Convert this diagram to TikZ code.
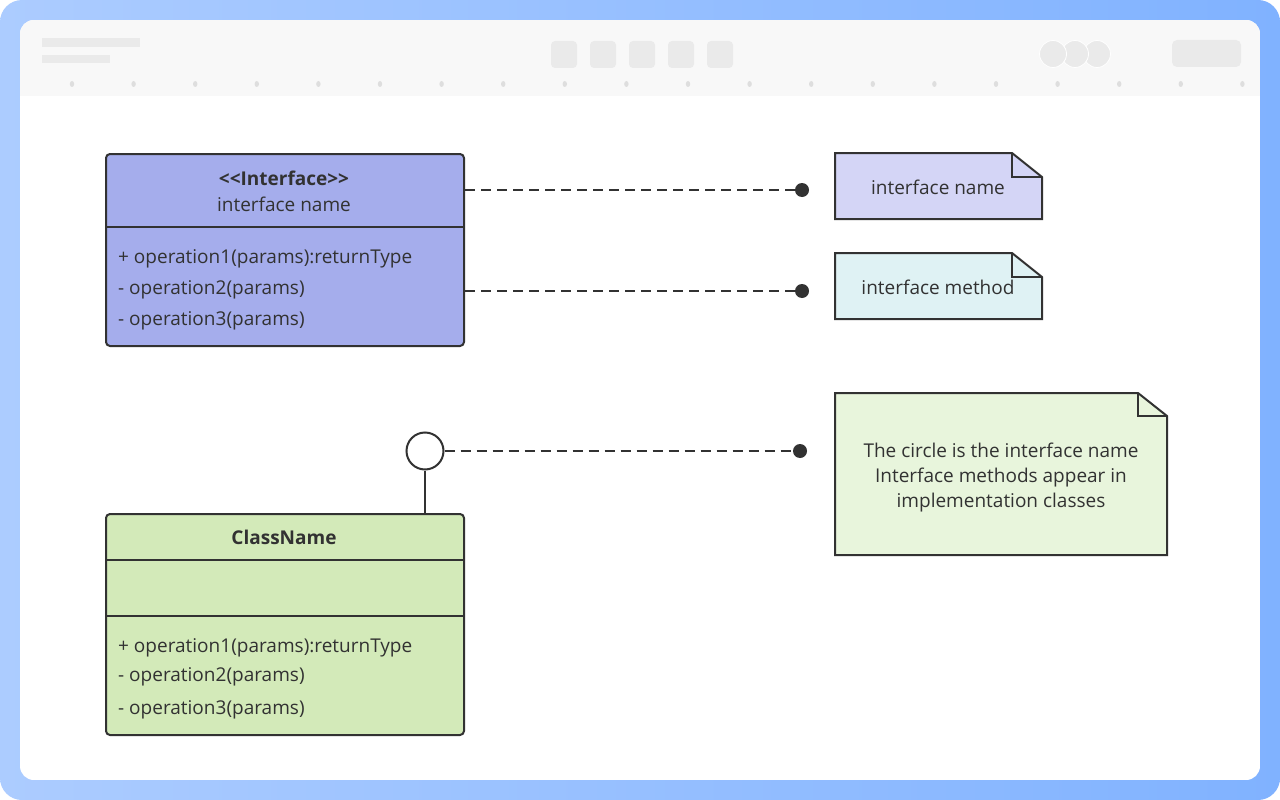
\documentclass[tikz,border=0pt]{standalone}
\usepackage{fontspec}
\setmainfont{Open Sans}
\definecolor{frameL}{RGB}{172,204,255}
\definecolor{frameR}{RGB}{128,178,255}
\definecolor{toolbar}{RGB}{248,248,248}
\definecolor{tbgray}{RGB}{234,234,234}
\definecolor{tbdot}{RGB}{222,222,222}
\definecolor{ink}{RGB}{50,50,50}
\definecolor{ifill}{RGB}{165,173,236}
\definecolor{cfill}{RGB}{211,234,185}
\definecolor{nAfill}{RGB}{212,213,246}
\definecolor{nBfill}{RGB}{223,242,244}
\definecolor{nCfill}{RGB}{232,245,220}
\tikzset{
  umlbox/.style={draw=ink, line width=2pt, rounded corners=4pt, anchor=north west, inner sep=0pt},
  divider/.style={draw=ink, line width=2pt},
  optext/.style={anchor=mid west, text=ink, inner sep=0pt, font=\fontsize{19}{22}\selectfont},
  titletext/.style={anchor=mid, text=ink, inner sep=0pt, font=\fontsize{19}{22}\selectfont},
  notetext/.style={anchor=mid, text=ink, inner sep=0pt, align=center, font=\fontsize{19}{25}\selectfont},
  noteshape/.style={draw=ink, line width=2pt, line join=miter},
  dashline/.style={draw=ink, line width=2pt, dash pattern=on 10pt off 6pt},
  enddot/.style={circle, fill=ink, inner sep=0pt, minimum size=14pt},
}
\begin{document}
\begin{tikzpicture}[x=1pt,y=-1pt]
\useasboundingbox (0,0) rectangle (1280,800);
% frame
\fill[white] (0,0) rectangle (1280,800);
\shade[left color=frameL, right color=frameR, rounded corners=22pt] (0,0) rectangle (1280,800);
\begin{scope}
\clip[rounded corners=14pt] (20,20) rectangle (1260,780);
\fill[white] (20,20) rectangle (1260,780);
\fill[toolbar] (20,20) rectangle (1260,96);
\end{scope}
% toolbar decoration
\fill[tbgray] (42,38) rectangle (140,47);
\fill[tbgray] (42,55) rectangle (110,63);
\foreach \x in {551,590,629,668,707}
  \fill[tbgray, rounded corners=4pt] (\x,41) rectangle ++(26,27);
\foreach \x in {1097,1075,1053}
  \filldraw[fill=tbgray, draw=white, line width=0.8pt] (\x,54) circle (13.5);
\fill[tbgray, rounded corners=5pt] (1172,40) rectangle (1241,67);
\foreach \i in {0,...,19}
  \fill[tbdot] ({72+61.6*\i},84) ellipse (2.2 and 3);

% interface class
\node[umlbox, fill=ifill, minimum width=358pt, minimum height=192pt] (iface) at (105,153) {};
\draw[divider] (105,227) -- (463,227);
\node[titletext] (ititle) at (284,183) {\bfseries <{}<Interface>{}>};
\node[titletext] (iname) at (284,209) {interface name};
\node[optext] (iop1) at (118,261) {+ operation1(params):returnType};
\node[optext] (iop2) at (118,292) {- operation2(params)};
\node[optext] (iop3) at (118,323) {- operation3(params)};

% implementation class
\node[umlbox, fill=cfill, minimum width=358pt, minimum height=221pt] (cls) at (105,513) {};
\draw[divider] (105,560) -- (463,560);
\draw[divider] (105,616) -- (463,616);
\node[titletext] (cname) at (284,542) {\bfseries ClassName};
\node[optext] (cop1) at (118,650) {+ operation1(params):returnType};
\node[optext] (cop2) at (118,679) {- operation2(params)};
\node[optext] (cop3) at (118,712) {- operation3(params)};

% lollipop
\node[circle, draw=ink, fill=white, line width=2pt, minimum size=37pt, inner sep=0pt] (lol) at (425,451) {};
\draw[ink, line width=2pt] (lol.south) -- (lol.south |- cls.north);

% notes
\path[noteshape, fill=nAfill] (835,153) -- (1012,153) -- (1042,177) -- (1042,219) -- (835,219) -- cycle;
\path[noteshape] (1012,153) -- (1012,177) -- (1042,177);
\node[notetext] (noteA) at (938,192) {interface name};

\path[noteshape, fill=nBfill] (835,253) -- (1012,253) -- (1042,277) -- (1042,319) -- (835,319) -- cycle;
\path[noteshape] (1012,253) -- (1012,277) -- (1042,277);
\node[notetext] (noteB) at (938,292) {interface method};

\path[noteshape, fill=nCfill] (835,393) -- (1138,393) -- (1167,416) -- (1167,555) -- (835,555) -- cycle;
\path[noteshape] (1138,393) -- (1138,416) -- (1167,416);
\node[notetext, anchor=center] (noteC) at (1001,478) {The circle is the interface name\\Interface methods appear in\\implementation classes};

% connectors
\node[enddot] (dA) at (802,190) {};
\node[enddot] (dB) at (802,291) {};
\node[enddot] (dC) at (800,451) {};
\coordinate (sA) at (465,190);
\coordinate (sB) at (465,291);
\draw[dashline] (sA) -- (dA.center);
\draw[dashline] (sB) -- (dB.center);
\draw[dashline] (lol.east) -- (dC.center);
\end{tikzpicture}
\end{document}
